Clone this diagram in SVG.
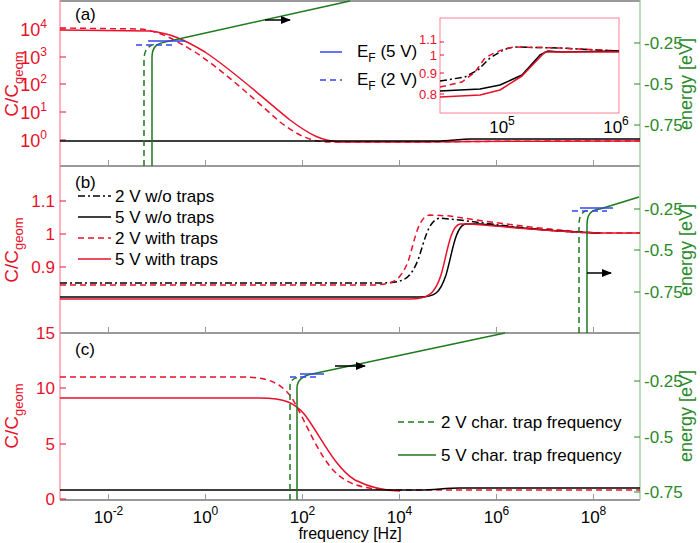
<svg xmlns="http://www.w3.org/2000/svg" width="700" height="543" viewBox="0 0 700 543">
<style>
text{font-family:"Liberation Sans",Arial,sans-serif;font-size:17px}
.r{fill:#e8102a}.g{fill:#2a8a2a}.k{fill:#000}
.c{fill:none;stroke-width:1.5;stroke-linejoin:round}
.red{stroke:#e8102a}.blk{stroke:#000}.grn{stroke:#1d7a1d}.blu{stroke:#3344ee}
.d{stroke-dasharray:6,4}.dd{stroke-dasharray:7,3,2,3}
.frame{fill:none;stroke:#777;stroke-width:1.5}
.ax{stroke-width:1.2;fill:none}
</style>
<defs><marker id="ar" markerWidth="10" markerHeight="8" refX="9" refY="4" orient="auto" markerUnits="userSpaceOnUse"><path d="M0,0L10,4L0,8z" fill="#000"/></marker></defs>
<rect width="700" height="543" fill="#fff"/>
<g id="frames">
<line x1="60" y1="1" x2="640" y2="1" class="frame"/>
<line x1="60" y1="166" x2="640" y2="166" class="frame"/>
<line x1="60" y1="333" x2="640" y2="333" class="frame"/>
<line x1="60" y1="500" x2="640" y2="500" class="frame"/>
<line x1="60" y1="0" x2="60" y2="500" stroke="#ff8095" class="ax"/>
<line x1="640" y1="0" x2="640" y2="500" stroke="#8fc48f" class="ax"/>
<g stroke="#999" stroke-width="1">
<path d="M108.5,500v-6M205.5,500v-6M302.5,500v-6M399.5,500v-6M496.5,500v-6M593.5,500v-6M108.5,333v-6M205.5,333v-6M302.5,333v-6M399.5,333v-6M496.5,333v-6M593.5,333v-6M108.5,166v-6M205.5,166v-6M302.5,166v-6M399.5,166v-6M496.5,166v-6M593.5,166v-6"/>
</g>
<path d="M60,29h6M60,57h6M60,84h6M60,112h6M60,140h6M60,201h6M60,234h6M60,267h6M60,388h6M60,444h6M60,499h6" stroke="#e8102a"/>
<path d="M640,43h-6M640,84h-6M640,125h-6M640,209h-6M640,250h-6M640,292h-6M640,381h-6M640,437h-6M640,492h-6" stroke="#2a8a2a"/>
</g>
<g id="axis-labels">
<text x="47" y="36" class="r" text-anchor="end" style="font-size:18px">10<tspan dy="-8" font-size="12">4</tspan></text>
<text x="47" y="64" class="r" text-anchor="end" style="font-size:18px">10<tspan dy="-8" font-size="12">3</tspan></text>
<text x="47" y="91" class="r" text-anchor="end" style="font-size:18px">10<tspan dy="-8" font-size="12">2</tspan></text>
<text x="47" y="119" class="r" text-anchor="end" style="font-size:18px">10<tspan dy="-8" font-size="12">1</tspan></text>
<text x="47" y="147" class="r" text-anchor="end" style="font-size:18px">10<tspan dy="-8" font-size="12">0</tspan></text>
<text x="55" y="207" class="r" text-anchor="end">1.1</text>
<text x="55" y="240" class="r" text-anchor="end">1</text>
<text x="55" y="273" class="r" text-anchor="end">0.9</text>
<text x="55" y="339" class="r" text-anchor="end">15</text>
<text x="55" y="394" class="r" text-anchor="end">10</text>
<text x="55" y="450" class="r" text-anchor="end">5</text>
<text x="55" y="505" class="r" text-anchor="end">0</text>
<text x="644" y="49" class="g">-0.25</text><text x="644" y="90" class="g">-0.5</text><text x="644" y="131" class="g">-0.75</text>
<text x="644" y="215" class="g">-0.25</text><text x="644" y="256" class="g">-0.5</text><text x="644" y="298" class="g">-0.75</text>
<text x="644" y="387" class="g">-0.25</text><text x="644" y="443" class="g">-0.5</text><text x="644" y="498" class="g">-0.75</text>
<text transform="translate(18,84) rotate(-90)" text-anchor="middle" class="r" style="font-size:19px">C/C<tspan dy="5" font-size="13">geom</tspan></text>
<text transform="translate(18,250) rotate(-90)" text-anchor="middle" class="r" style="font-size:19px">C/C<tspan dy="5" font-size="13">geom</tspan></text>
<text transform="translate(18,416) rotate(-90)" text-anchor="middle" class="r" style="font-size:19px">C/C<tspan dy="5" font-size="13">geom</tspan></text>
<text transform="translate(692,84) rotate(-90)" text-anchor="middle" class="g" style="font-size:18px">energy [eV]</text>
<text transform="translate(692,250) rotate(-90)" text-anchor="middle" class="g" style="font-size:18px">energy [eV]</text>
<text transform="translate(692,416) rotate(-90)" text-anchor="middle" class="g" style="font-size:18px">energy [eV]</text>
<text x="108.5" y="523" text-anchor="middle">10<tspan dy="-8" font-size="12">-2</tspan></text>
<text x="205.5" y="523" text-anchor="middle">10<tspan dy="-8" font-size="12">0</tspan></text>
<text x="302.5" y="523" text-anchor="middle">10<tspan dy="-8" font-size="12">2</tspan></text>
<text x="399.5" y="523" text-anchor="middle">10<tspan dy="-8" font-size="12">4</tspan></text>
<text x="496.5" y="523" text-anchor="middle">10<tspan dy="-8" font-size="12">6</tspan></text>
<text x="593.5" y="523" text-anchor="middle">10<tspan dy="-8" font-size="12">8</tspan></text>
<text x="350" y="539" text-anchor="middle" style="font-size:16px">frequency [Hz]</text>
<text x="75" y="20">(a)</text><text x="75" y="188">(b)</text><text x="75" y="355">(c)</text>
</g>
<g id="panel-a">
<path class="c red d" d="M60,28L140,29C160,31 175,40 195,52C225,72 255,100 280,122C300,137 312,142 330,142L420,142C440,142 460,141 640,141"/>
<path class="c red" d="M60,30L150,31C170,33 185,40 205,52C235,72 265,100 290,120C310,135 322,141 340,142L420,142C440,142 460,141 640,141"/>
<path class="c blk" d="M60,141L440,141C455,141 460,139 470,139L640,139"/>
<path class="c grn d" d="M144,166L144,60C144,50 148,46 155,44"/>
<path class="c grn" d="M152,166L152,58C152,47 156,44 165,42L350,1"/>
<path class="c blu" d="M148,41h37"/>
<path class="c blu d" d="M136,45h40"/>
<path d="M265,20h25" stroke="#000" stroke-width="1.5" marker-end="url(#ar)"/>
<path class="c blu" d="M320,52h22"/><path class="c blu d" d="M320,80h22"/>
<text x="357" y="57">E<tspan dy="5" font-size="12">F</tspan><tspan dy="-5"> (5 V)</tspan></text>
<text x="357" y="85">E<tspan dy="5" font-size="12">F</tspan><tspan dy="-5"> (2 V)</tspan></text>
</g>
<g id="inset">
<rect x="440" y="18" width="179" height="95" fill="#fff" stroke="#ff8095" stroke-width="1"/>
<path d="M440,42h4M440,55h4M440,73h4M440,94h4" stroke="#e8102a"/>
<text x="437" y="44" class="r" text-anchor="end" style="font-size:13px">1.1</text>
<text x="437" y="60" class="r" text-anchor="end" style="font-size:13px">1</text>
<text x="437" y="78" class="r" text-anchor="end" style="font-size:13px">0.9</text>
<text x="437" y="99" class="r" text-anchor="end" style="font-size:13px">0.8</text>
<text x="502" y="133" text-anchor="middle">10<tspan dy="-8" font-size="12">5</tspan></text>
<text x="616" y="133" text-anchor="middle">10<tspan dy="-8" font-size="12">6</tspan></text>
<path class="c blk dd" d="M440,81L465,77L478,70L490,58C500,52 505,48 515,47L560,48L619,51"/>
<path class="c red d" d="M440,87L462,82L475,72L485,58C495,52 505,48 515,47L560,48L619,51"/>
<path class="c blk" d="M440,91L480,89L500,85L522,75L540,55L548,51L560,52L619,51"/>
<path class="c red" d="M440,97L480,95L500,90L522,76L545,52L560,52L619,52"/>
</g>
<g id="panel-b">
<path class="c blk dd" d="M60,283L380,283C405,283 410,279 418,260C425,240 428,220 440,218L460,220C520,228 560,232 600,233"/>
<path class="c red d" d="M60,285L370,285C395,285 400,280 408,262C415,240 418,216 430,215L450,216C500,224 560,231 600,233L640,233"/>
<path class="c blk" d="M60,297L420,297C435,297 440,293 446,275C452,255 455,227 465,224L480,224C520,228 560,232 600,233"/>
<path class="c red" d="M60,299L410,299C428,299 435,294 441,275C447,255 450,226 460,224L470,224C520,228 560,232 600,233L640,233"/>
<path class="c grn d" d="M579,333L579,225C579,214 583,211 590,210"/>
<path class="c grn" d="M587,333L587,225C587,214 591,210 600,209L639,197"/>
<path class="c blu" d="M580,208h33"/><path class="c blu d" d="M572,211h35"/>
<path d="M587,273h24" stroke="#000" stroke-width="1.5" marker-end="url(#ar)"/>
<path class="c blk dd" d="M78,196h33"/><path class="c blk" d="M78,217h33"/>
<path class="c red d" d="M78,238h33"/><path class="c red" d="M78,259h33"/>
<text x="115" y="202">2 V w/o traps</text><text x="115" y="223">5 V w/o traps</text>
<text x="115" y="244">2 V with traps</text><text x="115" y="265">5 V with traps</text>
</g>
<g id="panel-c">
<path class="c red d" d="M60,377L240,377C268,377 280,382 292,398C305,420 318,455 335,472C350,487 370,490 400,490L640,490"/>
<path class="c red" d="M60,398L260,398C285,398 295,403 305,415C320,435 335,468 355,480C375,490 390,491 400,491"/>
<path class="c blk" d="M60,490L420,490C435,490 445,488 460,488L640,488"/>
<path class="c grn d" d="M290,500L290,386C290,380 294,378 300,377"/>
<path class="c grn" d="M297,500L297,388C297,380 302,376 312,374L505,333"/>
<path class="c blu" d="M300,374h24"/><path class="c blu d" d="M290,377h26"/>
<path d="M335,366h30" stroke="#000" stroke-width="1.5" marker-end="url(#ar)"/>
<path class="c grn d" d="M398,422h38"/><path class="c grn" d="M398,455h38"/>
<text x="441" y="428">2 V char. trap frequency</text>
<text x="441" y="461">5 V char. trap frequency</text>
</g>
</svg>
